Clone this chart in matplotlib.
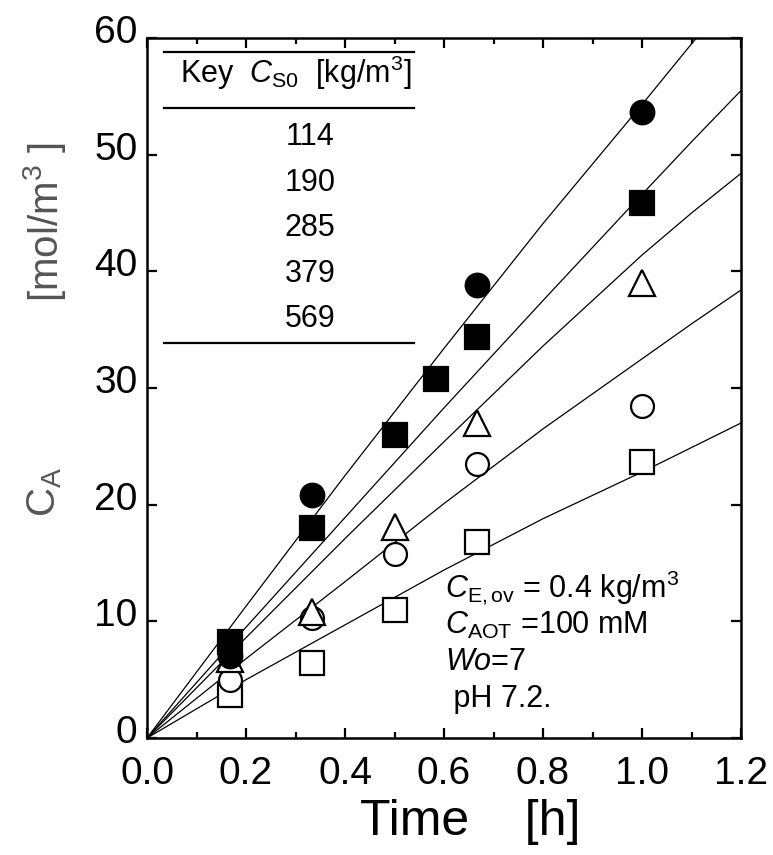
import matplotlib
matplotlib.use('Agg')
import matplotlib.pyplot as plt
import matplotlib.transforms as mtransforms

plt.rcParams['font.family'] = ['Liberation Sans', 'DejaVu Sans']
plt.rcParams['mathtext.fontset'] = 'custom'
plt.rcParams['mathtext.rm'] = 'Liberation Sans'
plt.rcParams['mathtext.it'] = 'Liberation Sans:italic'
plt.rcParams['mathtext.bf'] = 'Liberation Sans:bold'

# measured points (time [h], C_A [mol/m3])
t_fcirc = [0.167, 0.333, 0.667, 1.0]
c_fcirc = [7.0, 20.8, 38.8, 53.7]
t_fsq = [0.167, 0.333, 0.5, 0.583, 0.667, 1.0]
c_fsq = [8.25, 18.0, 26.0, 30.8, 34.4, 45.9]
t_open = [0.167, 0.333, 0.5, 0.667, 1.0]
c_tri = [6.8, 10.8, 18.1, 27.0, 39.0]
c_ocirc = [5.0, 10.3, 15.8, 23.5, 28.5]
c_osq = [3.7, 6.4, 11.0, 16.8, 23.7]

# model curves
line_t = [0.0, 0.2, 0.4, 0.6, 0.8, 1.0, 1.1, 1.2]
fit_lines = [
    [0.0, 11.3, 22.5, 33.4, 44.1, 54.3, 59.5, 64.5],
    [0.0, 9.5, 18.9, 28.3, 37.5, 46.6, 51.1, 55.5],
    [0.0, 8.6, 17.1, 25.4, 33.6, 41.4, 45.0, 48.4],
    [0.0, 6.8, 13.4, 20.1, 26.5, 32.5, 35.5, 38.4],
    [0.0, 5.0, 9.7, 14.4, 18.8, 22.8, 24.9, 27.0],
]

key_values = ['114', '190', '285', '379', '569']
notes = [r'$C_{\mathrm{E,ov}}$ = 0.4 kg/m$^{3}$', r'$C_{\mathrm{AOT}}$ =100 mM',
         r'$Wo$=7', ' pH 7.2.']

fig = plt.figure(figsize=(7.73, 8.55), dpi=100)
ax = fig.add_axes([0.1902, 0.1368, 0.7684, 0.8187])

for ys in fit_lines:
    ax.plot(line_t, ys, color='black', lw=0.9, zorder=2)

mk = dict(linestyle='none', markeredgecolor='black', markeredgewidth=1.6, zorder=3)
ax.plot(t_open, c_osq, marker='s', ms=17, markerfacecolor='white', **mk)
ax.plot(t_open, c_ocirc, marker='o', ms=16.5, markerfacecolor='white', **mk)
ax.plot(t_open, c_tri, marker='^', ms=19, markerfacecolor='white', **mk)
ax.plot(t_fcirc, c_fcirc, marker='o', ms=17, markerfacecolor='black', **mk)
ax.plot(t_fsq, c_fsq, marker='s', ms=17, markerfacecolor='black', **mk)

ax.set_xlim(0, 1.2)
ax.set_ylim(0, 60)
ax.set_xticks([0.0, 0.2, 0.4, 0.6, 0.8, 1.0, 1.2])
ax.set_xticks([0.1, 0.3, 0.5, 0.7, 0.9, 1.1], minor=True)
ax.set_xticklabels(['0.0', '0.2', '0.4', '0.6', '0.8', '1.0', '1.2'])
ax.set_yticks([0, 10, 20, 30, 40, 50, 60])
ax.tick_params(which='both', direction='in', top=True, right=True, width=1.6,
               labelsize=28)
ax.tick_params(axis='x', which='major', length=7, pad=13)
ax.tick_params(axis='x', which='minor', length=4)
ax.tick_params(axis='y', which='major', length=7, pad=7)
for s in ax.spines.values():
    s.set_linewidth(1.8)

shift = mtransforms.ScaledTranslation(0, 0.09, fig.dpi_scale_trans)
for lab in ax.get_yticklabels():
    lab.set_transform(lab.get_transform() + shift)

# key table
for yv in [58.8, 54.0, 33.85]:
    ax.plot([0.035, 0.54], [yv, yv], color='black', lw=1.6, zorder=2)
ax.text(0.067, 57.0, r'Key  $C_{\mathrm{S0}}$  [kg/m$^{3}$]', fontsize=22,
        ha='left', va='center')
for i, v in enumerate(key_values):
    ax.text(0.33, 51.5 - 3.9 * i, v, fontsize=22, ha='center', va='center')

for i, s in enumerate(notes):
    ax.text(0.602, 12.86 - 3.18 * i, s, fontsize=22, ha='left', va='center')

fig.text(470 / 773, 1 - 822 / 855, 'Time    [h]', fontsize=36,
         ha='center', va='center')
fig.text(45 / 773, 1 - 222 / 855, r'[mol/m$^{3}$ ]', fontsize=29, rotation=90,
         ha='center', va='center', color='#555555')
fig.text(45 / 773, 1 - 492 / 855, r'C$_{\mathrm{A}}$', fontsize=29, rotation=90,
         ha='center', va='center', color='#555555')

fig.savefig('out.png', dpi=100)
